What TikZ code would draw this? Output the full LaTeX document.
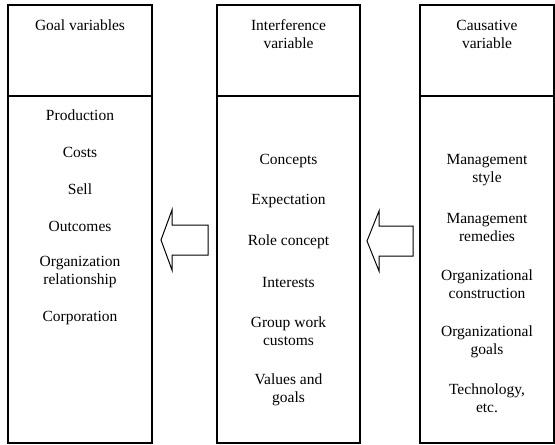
\documentclass[tikz,border=0pt]{standalone}
\usepackage{fontspec}
\setmainfont{Liberation Serif}
\usepackage{tikz}
\usetikzlibrary{positioning}

\begin{document}
\begin{tikzpicture}[x=1pt,y=-1pt,
    colbox/.style={draw,line width=1.4pt,minimum height=438pt,inner sep=0pt},
    txt/.style={align=center,font=\fontsize{15.5}{18}\selectfont,inner sep=0pt},
    blockarrow/.style={draw,line width=1pt,fill=white}]
    \useasboundingbox (0,0) rectangle (555,445);
    \node[colbox,minimum width=144pt] (goal) at (80,224) {};
    \node[colbox,minimum width=143pt] (inter) at (288.5,224) {};
    \node[colbox,minimum width=134pt] (cause) at (487,224) {};
    \draw[line width=1.4pt] (goal.west |- 0,96) -- (goal.east |- 0,96);
    \draw[line width=1.4pt] (inter.west |- 0,96) -- (inter.east |- 0,96);
    \draw[line width=1.4pt] (cause.west |- 0,96) -- (cause.east |- 0,96);
    \node[txt] (gh) at (80,25) {Goal variables};
    \node[txt] (ih) at (288.5,34.5) {Interference\\variable};
    \node[txt] (ch) at (487,34.5) {Causative\\variable};
    \node[txt] (g1) at (80,115) {Production};
    \node[txt] (g2) at (80,152) {Costs};
    \node[txt] (g3) at (80,189) {Sell};
    \node[txt] (g4) at (80,226) {Outcomes};
    \node[txt] (g5) at (80,272) {Organization\\relationship};
    \node[txt] (g6) at (80,318) {Corporation};
    \node[txt] (i1) at (288.5,161) {Concepts};
    \node[txt] (i2) at (288.5,201) {Expectation};
    \node[txt] (i3) at (288.5,242) {Role concept};
    \node[txt] (i4) at (288.5,282) {Interests};
    \node[txt] (i5) at (288.5,331) {Group work\\customs};
    \node[txt] (i6) at (288.5,390) {Values and\\goals};
    \node[txt] (c1) at (487,170.5) {Management\\style};
    \node[txt] (c2) at (487,227.5) {Management\\remedies};
    \node[txt] (c3) at (487,284.5) {Organizational\\construction};
    \node[txt] (c4) at (487,341.5) {Organizational\\goals};
    \node[txt] (c5) at (487,398.5) {Technology,\\etc.};
    \draw[blockarrow] (161,240) -- (172,210) -- (172,225) -- (208,225)
        -- (208,255) -- (172,255) -- (172,270) -- cycle;
    \draw[blockarrow] (367,241) -- (379,211) -- (379,226) -- (413,226)
        -- (413,256) -- (379,256) -- (379,271) -- cycle;
\end{tikzpicture}
\end{document}
